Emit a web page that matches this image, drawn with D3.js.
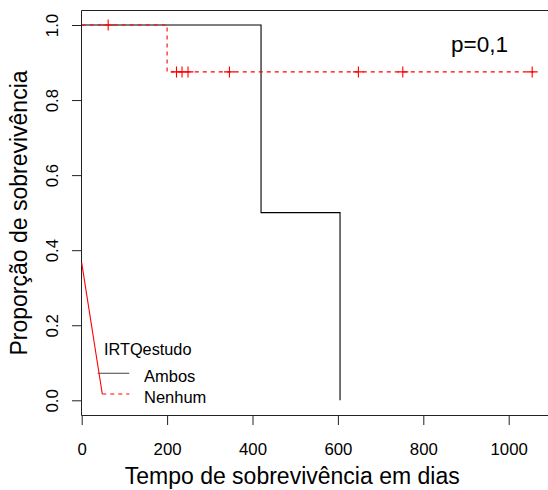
<!DOCTYPE html>
<html>
<head>
<meta charset="utf-8">
<script src="https://cdn.jsdelivr.net/npm/d3@7"></script>
<style>
  html, body { margin: 0; padding: 0; background: #fff; }
  svg { display: block; }
  text { font-family: "Liberation Sans", Arial, sans-serif; fill: #000; }
</style>
</head>
<body>
<svg id="chart" width="548" height="490"></svg>
<script>
// ---- data ----
const xTicks = [0, 200, 400, 600, 800, 1000];
const yTicks = [0, 0.2, 0.4, 0.6, 0.8, 1.0];
const yTickLabels = ["0.0", "0.2", "0.4", "0.6", "0.8", "1.0"];

// Kaplan-Meier step points: [time, survival]
const ambosSteps = [[0, 1], [420, 1], [420, 0.5], [605, 0.5], [605, 0]];
const nenhumSteps = [[0, 1], [200, 1], [200, 0.875], [1058, 0.875]];
const nenhumCensorTimes = [62, 222, 235, 249, 346, 648, 752, 1055];
const nenhumCensorSurv = [1, 0.875, 0.875, 0.875, 0.875, 0.875, 0.875, 0.875];

const legendTitle = "IRTQestudo";
const legendLabels = ["Ambos", "Nenhum"];
const pText = "p=0,1";
const xTitle = "Tempo de sobrevivência em dias";
const yTitle = "Proporção de sobrevivência";
const artifactStart = [0, 0.366];

// ---- drawing ----
const svg = d3.select("#chart");
const x = d3.scaleLinear().domain([0, 1000]).range([81.7, 508.7]);
const y = d3.scaleLinear().domain([0, 1]).range([400.3, 25]);

const boxLeft = 81.5, boxTop = 10.5, boxBottom = 415.5, boxRight = 560;

// frame (right side off-canvas)
svg.append("path")
  .attr("d", `M${boxRight},${boxTop}H${boxLeft}V${boxBottom}H${boxRight}`)
  .attr("fill", "none").attr("stroke", "#222").attr("stroke-width", 1);

// x axis ticks
const xAxis = svg.append("g").attr("transform", `translate(0,${boxBottom})`)
  .call(d3.axisBottom(x).tickValues(xTicks).tickSize(9.5).tickSizeOuter(0).tickFormat(d3.format("d")));
xAxis.select(".domain").remove();
xAxis.selectAll("line").attr("stroke", "#222");
xAxis.selectAll("text").attr("font-size", "16.8px").attr("dy", null).attr("y", 39)
  .style("font-family", '"Liberation Sans", Arial, sans-serif').attr("fill", "#000");

// y axis ticks
const yAxis = svg.append("g").attr("transform", `translate(${boxLeft},0)`)
  .call(d3.axisLeft(y).tickValues(yTicks).tickSize(9.5).tickSizeOuter(0)
    .tickFormat((d, i) => yTickLabels[i]));
yAxis.select(".domain").remove();
yAxis.selectAll("line").attr("stroke", "#222");
yAxis.selectAll(".tick text").each(function() {
  const t = d3.select(this);
  t.attr("x", null).attr("dy", null)
   .attr("text-anchor", "middle")
   .attr("transform", "translate(-23.2,0) rotate(-90)")
   .attr("font-size", "16.8px")
   .style("font-family", '"Liberation Sans", Arial, sans-serif').attr("fill", "#000");
});

// curves
const line = d3.line().x(d => x(d[0])).y(d => y(d[1]));
svg.append("path").datum(ambosSteps).attr("d", line)
  .attr("fill", "none").attr("stroke", "#000").attr("stroke-width", 1.1);
svg.append("path").datum(nenhumSteps).attr("d", line)
  .attr("fill", "none").attr("stroke", "#ff0000").attr("stroke-width", 1.1)
  .attr("stroke-dasharray", "4,4");

// censor marks
const cs = 5.5;
svg.append("g").selectAll("path").data(nenhumCensorTimes).join("path")
  .attr("d", (d, i) => {
    const cx = x(d), cy = y(nenhumCensorSurv[i]);
    return `M${cx - cs},${cy}H${cx + cs}M${cx},${cy - cs}V${cy + cs}`;
  })
  .attr("stroke", "#ff0000").attr("stroke-width", 1.1).attr("fill", "none");

// p value
svg.append("text").attr("x", 451).attr("y", 51.7).attr("font-size", "22.5px").text(pText);

// legend
svg.append("text").attr("x", 104).attr("y", 355).attr("font-size", "16.3px").text(legendTitle);
svg.append("line").attr("x1", 97.7).attr("x2", 129.3).attr("y1", 373.3).attr("y2", 373.3)
  .attr("stroke", "#444").attr("stroke-width", 1.1);
svg.append("line").attr("x1", 102.3).attr("x2", 129.3).attr("y1", 394).attr("y2", 394)
  .attr("stroke", "#ff0000").attr("stroke-width", 1.1).attr("stroke-dasharray", "4,4");
svg.append("text").attr("x", 144).attr("y", 381.7).attr("font-size", "16.5px").text(legendLabels[0]);
svg.append("text").attr("x", 144).attr("y", 402.7).attr("font-size", "16.5px").text(legendLabels[1]);

// red artifact line from the axis to the legend key
svg.append("line")
  .attr("x1", x(artifactStart[0])).attr("y1", y(artifactStart[1]))
  .attr("x2", 102.3).attr("y2", 394)
  .attr("stroke", "#ff0000").attr("stroke-width", 1.1);

// axis titles
svg.append("text").attr("x", (x(0) + x(1000)) / 2 - 3).attr("y", 484)
  .attr("text-anchor", "middle").attr("font-size", "23px").text(xTitle);
svg.append("text")
  .attr("transform", `translate(27,${(boxTop + boxBottom) / 2}) rotate(-90)`)
  .attr("text-anchor", "middle").attr("font-size", "23px").text(yTitle);
</script>
</body>
</html>
